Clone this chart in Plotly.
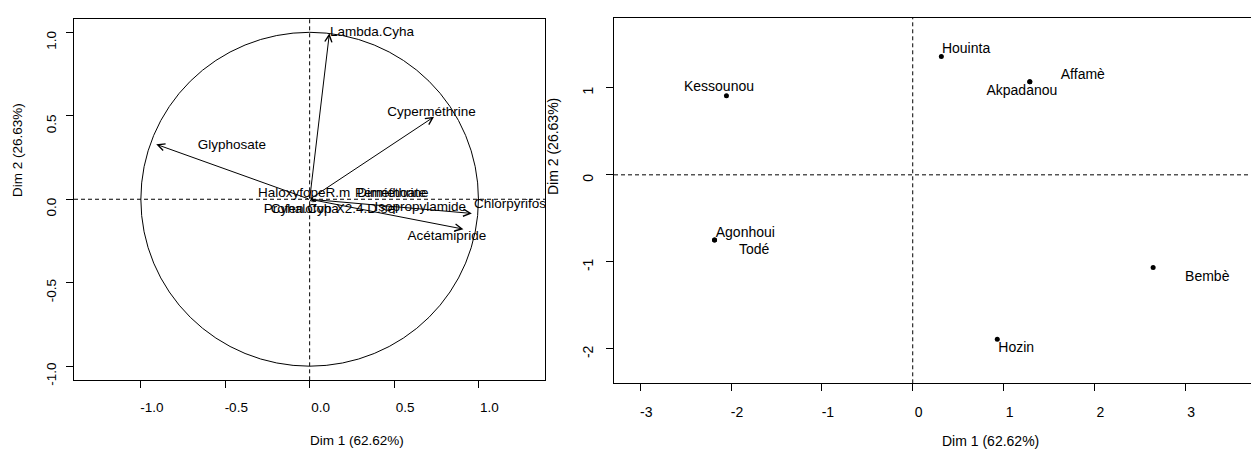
import plotly.graph_objects as go

# ---------------- data: variables factor map (left) ----------------
var_names = ["Lambda.Cyha", "Glyphosate", "Cyperméthrine", "Chlorpyrifos", "Acétamipride",
             "HaloxyfopeR.m", "Diméthoate", "Perméthrine", "Cyhalofop", "Profen.Cyha",
             "X2.4.D.sel", "Isopropylamide"]
var_dim1 = [0.117, -0.909, 0.737, 0.961, 0.911, -0.01, 0.02, 0.02, 0.01, 0.012, 0.03, 0.04]
var_dim2 = [0.994, 0.329, 0.494, -0.085, -0.179, 0.012, 0.006, 0.008, -0.008, -0.006, -0.012, -0.015]
var_lab_x = [0.37, -0.461, 0.722, 1.187, 0.813, -0.033, 0.487, 0.487, -0.05, -0.05, 0.339, 0.655]
var_lab_y = [1.0, 0.32, 0.518, -0.035, -0.225, 0.035, 0.035, 0.035, -0.061, -0.061, -0.065, -0.053]

# ---------------- data: individuals factor map (right) ----------------
ind_names = ["Houinta", "Affamè", "Akpadanou", "Kessounou", "Agonhoui", "Todé", "Bembè", "Hozin"]
ind_dim1 = [0.315, 1.289, 1.289, -2.051, -2.182, -2.182, 2.647, 0.931]
ind_dim2 = [1.358, 1.07, 1.07, 0.909, -0.748, -0.748, -1.063, -1.888]
ind_lab_x = [0.587, 1.873, 1.202, -2.133, -1.843, -1.746, 3.243, 1.139]
ind_lab_y = [1.438, 1.146, 0.958, 1.0, -0.668, -0.871, -1.182, -1.991]

var_ticks = [-1.0, -0.5, 0.0, 0.5, 1.0]
var_tick_text = ["-1.0", "-0.5", "0.0", "0.5", "1.0"]
ind_xticks = [-3, -2, -1, 0, 1, 2, 3]
ind_yticks = [-2, -1, 0, 1]

xlab = "Dim 1 (62.62%)"
ylab = "Dim 2 (26.63%)"

W, H = 1251, 452
FONT = "Liberation Sans, Arial, sans-serif"

fig = go.Figure()

# variable labels
fig.add_trace(go.Scatter(x=var_lab_x, y=var_lab_y, text=var_names, mode="text",
                         textfont=dict(family=FONT, size=13.5, color="black"),
                         textposition="middle center", hoverinfo="skip",
                         xaxis="x", yaxis="y", showlegend=False))

# individuals
fig.add_trace(go.Scatter(x=ind_dim1, y=ind_dim2, mode="markers",
                         marker=dict(color="black", size=5),
                         xaxis="x2", yaxis="y2", showlegend=False, hoverinfo="skip"))
fig.add_trace(go.Scatter(x=ind_lab_x, y=ind_lab_y, text=ind_names, mode="text",
                         textfont=dict(family=FONT, size=14, color="black"),
                         textposition="middle center", hoverinfo="skip",
                         xaxis="x2", yaxis="y2", showlegend=False))

annotations = []
for x, y in zip(var_dim1, var_dim2):
    small = (x * x + y * y) ** 0.5 < 0.1
    annotations.append(dict(x=x, y=y, ax=0, ay=0, xref="x", yref="y", axref="x", ayref="y",
                            text="", showarrow=True, arrowhead=5,
                            arrowsize=0.6 if small else 1.4,
                            arrowwidth=1, arrowcolor="black", standoff=0))

def px2paper(px, py):
    return px / W, 1 - py / H

for (px, py, txt, ang, fs) in [(357, 440, xlab, 0, 13.5), (990, 441, xlab, 0, 14),
                                (18, 150, ylab, -90, 13.5), (553, 147, ylab, -90, 14)]:
    xp, yp = px2paper(px, py)
    annotations.append(dict(x=xp, y=yp, xref="paper", yref="paper", text=txt, showarrow=False,
                            textangle=ang, xanchor="center", yanchor="middle",
                            font=dict(family=FONT, size=fs, color="black")))

shapes = [
    dict(type="circle", xref="x", yref="y", x0=-1, x1=1, y0=-1, y1=1,
         line=dict(color="black", width=1)),
    dict(type="line", xref="x", yref="y domain", x0=0, x1=0, y0=0, y1=1,
         line=dict(color="black", width=1, dash="4px,3px")),
    dict(type="line", xref="x domain", yref="y", x0=0, x1=1, y0=0, y1=0,
         line=dict(color="black", width=1, dash="4px,3px")),
    dict(type="line", xref="x2", yref="y2 domain", x0=0, x1=0, y0=0, y1=1,
         line=dict(color="black", width=1, dash="4px,3px")),
    dict(type="line", xref="x2 domain", yref="y2", x0=0, x1=1, y0=0, y1=0,
         line=dict(color="black", width=1, dash="4px,3px")),
]

axis_common = dict(showgrid=False, zeroline=False, showline=True, linecolor="black", linewidth=1,
                   ticks="outside", ticklen=7, tickcolor="black", tickwidth=1,
                   tickfont=dict(family=FONT, size=13.5, color="black"), automargin=False)
font14 = dict(family=FONT, size=14, color="black")

fig.update_layout(
    width=W, height=H, autosize=False,
    margin=dict(l=0, r=0, t=0, b=0),
    paper_bgcolor="white", plot_bgcolor="white",
    xaxis=dict(domain=[74 / W, 545.3 / W], range=[-1.396, 1.396], mirror=True,
               tickvals=var_ticks, ticktext=var_tick_text, anchor="y",
               ticklabelstandoff=7, ticklabelshift=11, **axis_common),
    yaxis=dict(domain=[1 - 380.3 / H, 1 - 19 / H], range=[-1.0845, 1.0797], mirror=True,
               tickvals=var_ticks, ticktext=var_tick_text, tickangle=-90, anchor="x",
               ticklabelstandoff=5, ticklabelshift=10, **axis_common),
    xaxis2=dict(domain=[614 / W, 1.0], range=[-3.289, 3.7245], mirror=True,
                tickvals=ind_xticks, ticktext=[str(v) for v in ind_xticks], anchor="y2",
                ticklabelstandoff=9, ticklabelshift=6, **{**axis_common, "tickfont": font14}),
    yaxis2=dict(domain=[1 - 383.3 / H, 1 - 17.5 / H], range=[-2.394, 1.807], mirror=False,
                tickvals=ind_yticks, ticktext=[str(v) for v in ind_yticks], tickangle=-90, anchor="x2",
                ticklabelstandoff=7, ticklabelshift=5, **{**axis_common, "tickfont": font14}),
    annotations=annotations,
    shapes=shapes,
)

fig.write_html("out.html", config={"displayModeBar": False},
               post_script="document.body.style.margin='0px';document.body.style.overflow='hidden';")
